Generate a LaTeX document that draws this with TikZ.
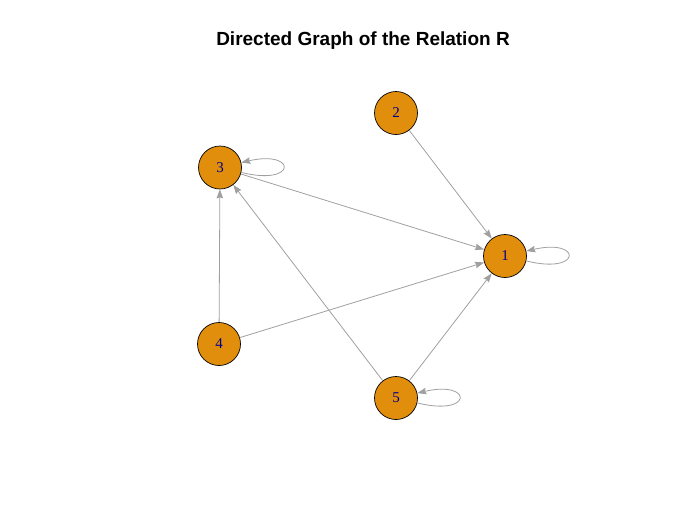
\documentclass[tikz,border=0pt]{standalone}
\usepackage{fontspec}
\setmainfont{Liberation Serif}
\newfontfamily\titlefont{Liberation Sans}
\usetikzlibrary{arrows.meta}
\definecolor{vfill}{HTML}{E08E0B}
\definecolor{egray}{RGB}{160,160,160}
\definecolor{lblue}{RGB}{0,0,139}
\begin{document}
\begin{tikzpicture}[x=1pt,y=-1pt,
  vert/.style={circle,draw=black,line width=0.7pt,fill=vfill,minimum size=43pt,inner sep=0pt,
    text=lblue,font=\fontsize{15}{15}\selectfont},
  edge/.style={draw=egray,line width=0.8pt,-{Stealth[length=9pt,width=6.5pt,inset=1pt]}}]
\useasboundingbox (0,0) rectangle (687,531);
\node[font=\titlefont\bfseries\fontsize{19}{19}\selectfont] (title) at (363,41) {Directed Graph of the Relation R};
\node[vert] (n1) at (505,256) {1};
\node[vert] (n2) at (396,113) {2};
\node[vert] (n3) at (220,167.5) {3};
\node[vert] (n4) at (219,344) {4};
\node[vert] (n5) at (396,398) {5};
\draw[edge] (n2) -- (n1);
\draw[edge] (n3) -- (n1);
\draw[edge] (n4) -- (n1);
\draw[edge] (n5) -- (n1);
\draw[edge] (n4) -- (n3);
\draw[edge] (n5) -- (n3);
\draw[edge] (n3.-13) .. controls +(56,14) and +(56,-13) .. (n3.13);
\draw[edge] (n1.-13) .. controls +(56,14) and +(56,-13) .. (n1.13);
\draw[edge] (n5.-13) .. controls +(56,14) and +(56,-13) .. (n5.13);
\end{tikzpicture}
\end{document}
